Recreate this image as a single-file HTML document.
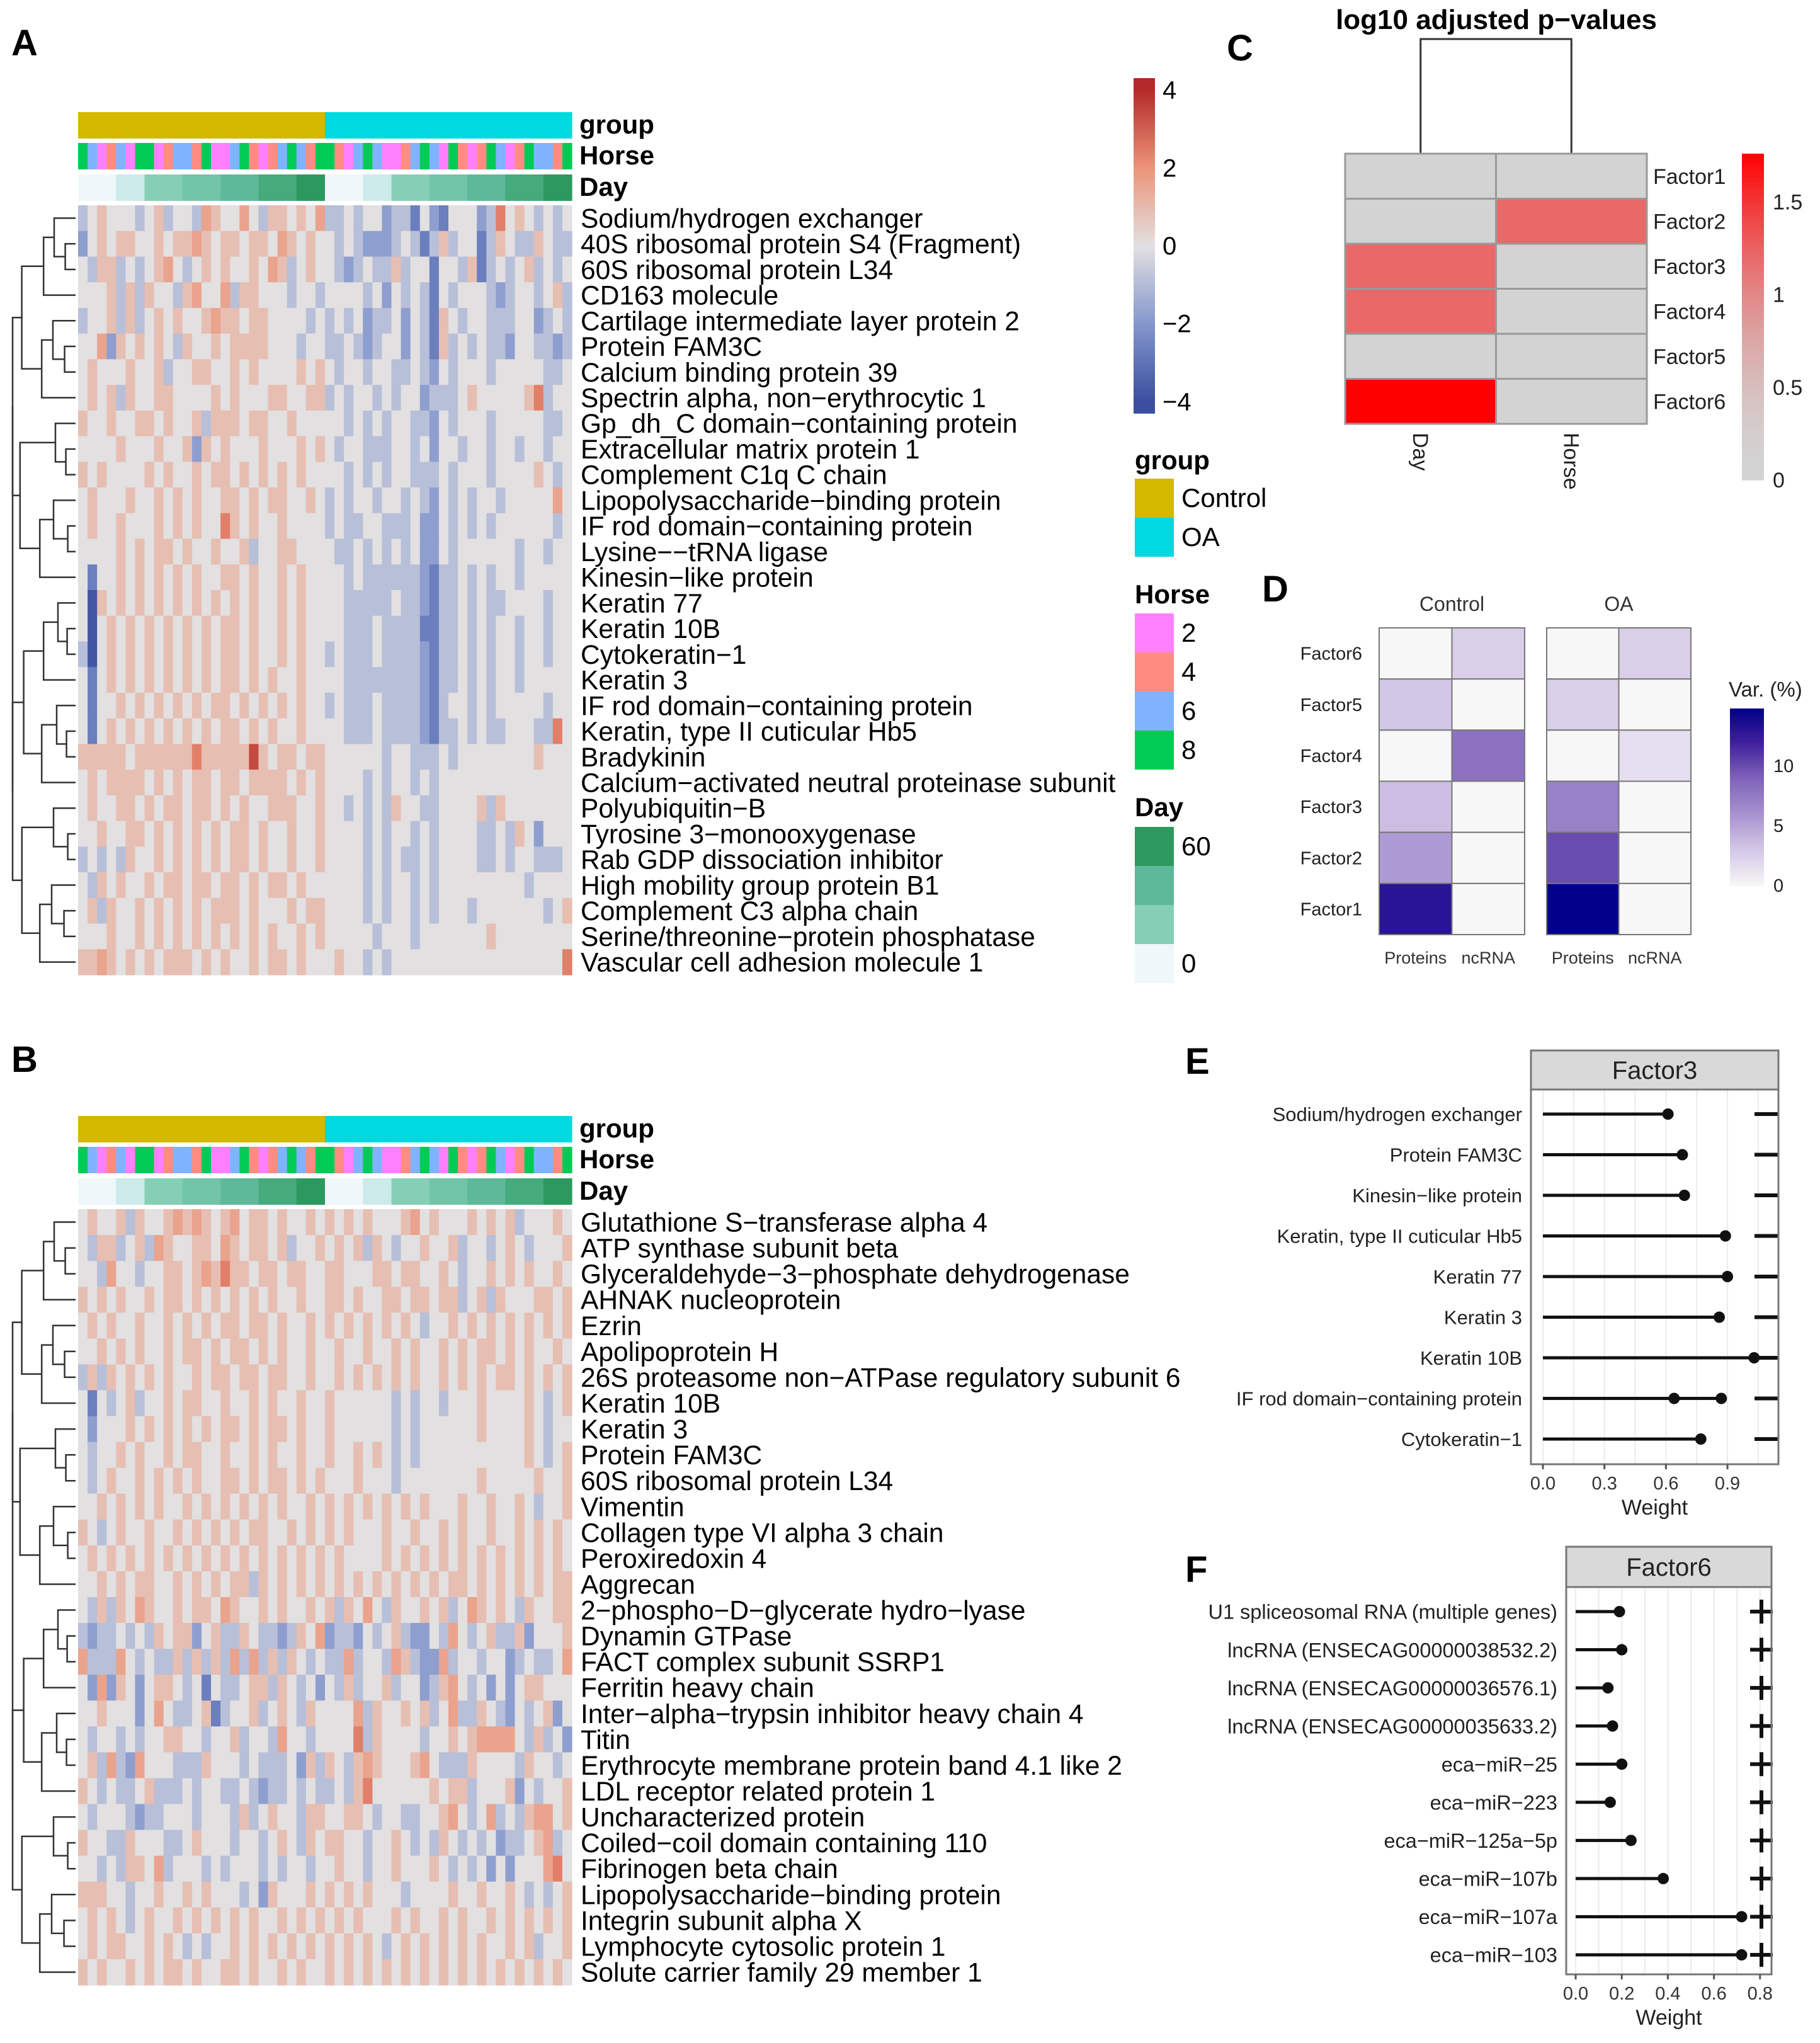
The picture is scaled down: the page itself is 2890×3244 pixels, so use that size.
<!DOCTYPE html>
<html><head><meta charset="utf-8"><style>
html,body{margin:0;padding:0;background:#fff;}
svg{display:block;font-family:"Liberation Sans",Arial,sans-serif;}
</style></head><body>
<svg id="fig" xmlns="http://www.w3.org/2000/svg" width="2890" height="3244" viewBox="0 0 2890 3244">
<rect width="2890" height="3244" fill="#fff"/>
<g id="gA"></g>
<g id="gB"></g>
<g id="gLeg"></g>
<g id="gC"></g>
<g id="gD"></g>
<g id="gE"></g>
<g id="gF"></g>
</svg>
<script>
// ===== DATA =====
const rowsA = ["Sodium/hydrogen exchanger","40S ribosomal protein S4 (Fragment)","60S ribosomal protein L34","CD163 molecule","Cartilage intermediate layer protein 2","Protein FAM3C","Calcium binding protein 39","Spectrin alpha, non\u2212erythrocytic 1","Gp_dh_C domain\u2212containing protein","Extracellular matrix protein 1","Complement C1q C chain","Lipopolysaccharide\u2212binding protein","IF rod domain\u2212containing protein","Lysine\u2212\u2212tRNA ligase","Kinesin\u2212like protein","Keratin 77","Keratin 10B","Cytokeratin\u22121","Keratin 3","IF rod domain\u2212containing protein","Keratin, type II cuticular Hb5","Bradykinin","Calcium\u2212activated neutral proteinase subunit","Polyubiquitin\u2212B","Tyrosine 3\u2212monooxygenase","Rab GDP dissociation inhibitor","High mobility group protein B1","Complement C3 alpha chain","Serine/threonine\u2212protein phosphatase","Vascular cell adhesion molecule 1"];
const rowsB = ["Glutathione S\u2212transferase alpha 4","ATP synthase subunit beta","Glyceraldehyde\u22123\u2212phosphate dehydrogenase","AHNAK nucleoprotein","Ezrin","Apolipoprotein H","26S proteasome non\u2212ATPase regulatory subunit 6","Keratin 10B","Keratin 3","Protein FAM3C","60S ribosomal protein L34","Vimentin","Collagen type VI alpha 3 chain","Peroxiredoxin 4","Aggrecan","2\u2212phospho\u2212D\u2212glycerate hydro\u2212lyase","Dynamin GTPase","FACT complex subunit SSRP1","Ferritin heavy chain","Inter\u2212alpha\u2212trypsin inhibitor heavy chain 4","Titin","Erythrocyte membrane protein band 4.1 like 2","LDL receptor related protein 1","Uncharacterized protein","Coiled\u2212coil domain containing 110","Fibrinogen beta chain","Lipopolysaccharide\u2212binding protein","Integrin subunit alpha X","Lymphocyte cytosolic protein 1","Solute carrier family 29 member 1"];
// heatmap levels: 0..8 -> z-scores
const levelValues = [-3.8,-2.7,-1.8,-0.9,0,0.9,1.6,2.4,3.4];
const heatA = [
"3454443453443654464355454633434423314214442374543434",
"2454554454556545545546545443432223431353441354335433",
"4355343456434545445465345443234335344144351343453434",
"4445353544356446355444344344443424343143444323443453",
"3445353454544565545544443434342334243154344333442343",
"4462545454354454555544434433432344243153434332443323",
"4544454453445544545444454543443443343243444344444334",
"4545354455444454544455445534344343442333454444457344",
"5445445545445355545544544444343434433243444344444334",
"4444544454452545444544454543443334434244344344344344",
"5454444545445455454545454444343434433343444344445434",
"4544454454545445545455445434344344343243434434444464",
"4544544454545447545445444434334433342243434344444434",
"4444545455454454453445544443343434342243444444344344",
"4144545454545445545445454444343333332133434344344444",
"4054545454545454545445454444333334332133434334444344",
"4045454545454545545445454444333433331133434344344344",
"3045454545454545545445454434333433332133434344344344",
"4145454545454545545454454444333333332133434344344444",
"4144545454545455454545454434333433332134434344444344",
"4145454545454545545454454444333433332133434334443374",
"5555545555557555558545545544444434433343444444445444",
"4545555454545545545555454544443434434344444444444444",
"4544554545545545454455544544343435443344445354444444",
"4454455454545454554544544544443434434344443343542444",
"3434354454545454554544544544443434334344443343443334",
"4354544545545545545455454444443434434344444444434444",
"4535445454545455545444545544443434434344434444444345",
"4445445454545454545454454544444344434444444544444444",
"5565454545554545445455454445443434444444444444444447"];
const heatB = [
"4544535445656545645545445454545444564544454545344454",
"4355345365445546545545344545453543445445344345434445",
"4436443445545657554554554455444554554454344545454454",
"5454544545545454545454454455454455455455345354445545",
"4545445445454545545545445454545454543445454545454545",
"4454545445455454554545445445445445454454545545454454",
"3535454545445455455455445445454545454454545455454545",
"4143453445455445445454454454444443434434445444454345",
"4244454545454545545455454454444443434444445444454344",
"4344545445455445445454454454454543434444444444454345",
"4345445454545445545455454544454443444444445444445445",
"4454545454454545454545445454545454545444544544543445",
"5434544544545454545544545454544454454454544544545454",
"4545454545454545454545454545444454545454545454545454",
"4454545544545454553545454545454545454545545454545455",
"4353546544545546544545445453546435445453465454354455",
"3233434354552453354332354623324345322436434533524445",
"6333643433535353636353543433634436532263443442343346",
"4262542455434143345535434243534453442356434242455444",
"4454442464334513445345435444463544545346335432434524",
"4344343445544344534436443444473544443445456666435342",
"4536326444333544434333425354356544456433354444354434",
"5434334533343443343233434334357444444545534445243445",
"4344432334443444353454435544554344334456434634356645",
"5443354443345444344345435455443445434354343423345634",
"4434355463444343444343443445443445444543434242444674",
"5554434454454544434254445454545444344445445445434345",
"4545434544545454545445454545454445454454544545454545",
"4545544545434344545454545454545434545454545445453445",
"5454454545545445545445454454545454545454545454545454"];
const horseSeq = "GBPSBPGGPSBBSGPPBGSPSBGBSGGSPBGBPPSBGBPGSPSGBPSGBBSG";
const dayHalf = [0,0,0,0,10,10,10,20,20,20,20,30,30,30,30,40,40,40,40,50,50,50,50,60,60,60];
const cFactors = ["Factor1","Factor2","Factor3","Factor4","Factor5","Factor6"];
const cCovariates = ["Day","Horse"];
const cDay = [0,0,1.2,1.2,0,1.76];
const cHorse = [0,1.2,0,0,0,0];
const cTicks = [0,0.5,1,1.5];
const dFactors = ["Factor6","Factor5","Factor4","Factor3","Factor2","Factor1"];
const dViews = ["Proteins","ncRNA"];
const dControlProteins = [0,3,0,3.5,5.5,13];
const dControlNcrna = [2.5,0,8,0,0,0];
const dOAProteins = [0,2.5,0,7,10,14.7];
const dOANcrna = [2.5,0,1.5,0,0,0];
const dTicks = [0,5,10];
const eFeatures = ["Sodium/hydrogen exchanger","Protein FAM3C","Kinesin\u2212like protein","Keratin, type II cuticular Hb5","Keratin 77","Keratin 3","Keratin 10B","IF rod domain\u2212containing protein","Cytokeratin\u22121"];
const eWeights = [0.61,0.68,0.69,0.89,0.90,0.86,1.03,0.87,0.77];
const eWeights2 = [null,null,null,null,null,null,null,0.64,null];
const eTicks = ["0.0","0.3","0.6","0.9"];
const fFeatures = ["U1 spliceosomal RNA (multiple genes)","lncRNA (ENSECAG00000038532.2)","lncRNA (ENSECAG00000036576.1)","lncRNA (ENSECAG00000035633.2)","eca\u2212miR\u221225","eca\u2212miR\u2212223","eca\u2212miR\u2212125a\u22125p","eca\u2212miR\u2212107b","eca\u2212miR\u2212107a","eca\u2212miR\u2212103"];
const fWeights = [0.19,0.20,0.14,0.16,0.20,0.15,0.24,0.38,0.72,0.72];
const fTicks = ["0.0","0.2","0.4","0.6","0.8"];

// ===== HELPERS =====
const NS="http://www.w3.org/2000/svg";
function mk(parent,tag,attrs,text){const e=document.createElementNS(NS,tag);for(const k in attrs)e.setAttribute(k,attrs[k]);if(text!==undefined)e.textContent=text;parent.appendChild(e);return e;}
function hex(c){return [parseInt(c.slice(1,3),16),parseInt(c.slice(3,5),16),parseInt(c.slice(5,7),16)];}
function lerpC(a,b,t){const A=hex(a),B=hex(b);return "rgb("+A.map((v,i)=>Math.round(v+(B[i]-v)*t)).join(",")+")";}
function scaleStops(stops,v){for(let i=0;i<stops.length-1;i++){if(v<=stops[i+1][0]){const t=(v-stops[i][0])/(stops[i+1][0]-stops[i][0]);return lerpC(stops[i][1],stops[i+1][1],Math.max(0,Math.min(1,t)));}}return stops[stops.length-1][1];}
const divStops=[[-4,"#3a4f9f"],[-2,"#8597cd"],[0,"#e2e0e1"],[2,"#ec9478"],[4,"#b42a2a"]];
const dayStops=[[0,"#eef7f9"],[10,"#cdeaea"],[20,"#86cfb7"],[40,"#5db99a"],[60,"#2c9a5e"]];
const horseCol={P:"#ff80ff",S:"#ff8c80",B:"#80b3ff",G:"#00cc55"};

function heatPanel(g,rows,data,top,bodyTop,bodyBot,label,labelY){
  const x0=124,x1=908,nC=52,cw=(x1-x0)/nC,nR=rows.length,rh=(bodyBot-bodyTop)/nR;
  const xs=c=>x0+c*cw, ys=r=>bodyTop+r*rh;
  const lt=mk(g,"text",{x:18,y:labelY,"font-size":58,"font-weight":"bold"},label);
  
  
  const ab=[top,top+49,top+99];const ah=42;
  for(let c=0;c<nC;c++){
    const gr=mk(g,"rect",{x:xs(c),y:ab[0],width:cw+0.6,height:ah,fill:c<26?"#d4b800":"#00d9e0"});
    
    
    const hr=mk(g,"rect",{x:xs(c),y:ab[1],width:cw+0.6,height:ah,fill:horseCol[horseSeq[c]]});
    
    
    const dr=mk(g,"rect",{x:xs(c),y:ab[2],width:cw+0.6,height:ah,fill:scaleStops(dayStops,dayHalf[c%26])});
    
    
  }
  [["group",0],["Horse",1],["Day",2]].forEach(([t,i])=>{
    const e=mk(g,"text",{x:x1+12,y:ab[i]+34,"font-size":42,"font-weight":"bold"},t);
    
    
  });
  for(let r=0;r<nR;r++){
    const s=(data[r]+"4".repeat(52)).slice(0,52);
    for(let c=0;c<nC;c++){
      const v=levelValues[+s[c]];
      const cell=mk(g,"rect",{x:xs(c),y:ys(r),width:cw+0.6,height:rh+0.6,fill:scaleStops(divStops,v)});
      
      
    }
    const t=mk(g,"text",{x:x1+14,y:ys(r)+rh/2+15,"font-size":42.5},rows[r]);
    
    
  }
  const dg=mk(g,"g",{stroke:"#333","stroke-width":2.5,fill:"none"});
  
  
  const xl=20,xr=x0-4;
  function tree(a,b,depth){
    if(b-a===1)return {y:ys(a)+rh/2,x:xr};
    const m=Math.floor((a+b)/2)+((depth%2)&&(b-a>3)?1:0);
    const L=tree(a,m,depth+1),R=tree(m,b,depth+1);
    const h=Math.max(xl,Math.min(L.x,R.x)-(8+ (b-a)*2.2 + ((a*7+depth*3)%9)));
    mk(dg,"path",{d:`M${L.x},${L.y}H${h}V${R.y}H${R.x}`});
    return {y:(L.y+R.y)/2,x:h};
  }
  tree(0,nR,0);
}
heatPanel(document.getElementById("gA"),rowsA,heatA,178,326,1548,"A",88);
heatPanel(document.getElementById("gB"),rowsB,heatB,1772,1920,3152,"B",1702);

// ===== Legends for A =====
(function(){
  const g=document.getElementById("gLeg");
  const bx=1800,bw=34,byTop=124,byBot=656;
  const vTop=4.3,vBot=-4.3;
  const yv=v=>byTop+(vTop-v)/(vTop-vBot)*(byBot-byTop);
  for(let i=0;i<100;i++){
    const v=vTop-(i+0.5)*(vTop-vBot)/100;
    const r=mk(g,"rect",{x:bx,y:byTop+i*(byBot-byTop)/100,width:bw,height:(byBot-byTop)/100+0.8,fill:scaleStops(divStops,v)});
    
    
  }
  [4,2,0,-2,-4].forEach(v=>{
    const t=mk(g,"text",{x:1846,y:yv(v)+14,"font-size":40},v<0?"\u2212"+(-v):String(v));
    
    
  });
  function title(t,y){const e=mk(g,"text",{x:1802,y:y,"font-size":42,"font-weight":"bold"},t);
    
    }
  function entry(col,lab,y){
    const r=mk(g,"rect",{x:1802,y:y,width:62,height:62,fill:col});
    
    
    if(lab!==null){const t=mk(g,"text",{x:1876,y:y+45,"font-size":42},lab);
      
      }
  }
  title("group",745);
  entry("#d4b800","Control",760);entry("#00d9e0","OA",822);
  title("Horse",958);
  entry("#ff80ff","2",974);entry("#ff8c80","4",1036);entry("#80b3ff","6",1098);entry("#00cc55","8",1160);
  title("Day",1296);
  [[60,"60"],[40,null],[20,null],[0,"0"]].forEach(([v,l],i)=>entry(scaleStops(dayStops,v),l,1313+i*62));
})();

// ===== Panel C =====
(function(){
  const g=document.getElementById("gC");
  const x0=2136,x1=2615,y0=244,y1=673,vmax=1.76;
  const cw=(x1-x0)/2,rh=(y1-y0)/6;
  const col=v=>lerpC("#d3d3d3","#ff0000",Math.pow(v/vmax,1.8));
  const lab=mk(g,"text",{x:1948,y:96,"font-size":58,"font-weight":"bold"},"C");
  
  
  const tt=mk(g,"text",{x:2376,y:46,"font-size":44,"font-weight":"bold","text-anchor":"middle"},"log10 adjusted p\u2212values");
  
  
  const dd=mk(g,"path",{d:`M${x0+cw/2},${y0}V62H${x0+cw*1.5}V${y0}`,stroke:"#333","stroke-width":3,fill:"none"});
  
  
  const vals=[cDay,cHorse];
  for(let r=0;r<6;r++){
    for(let c=0;c<2;c++){
      const e=mk(g,"rect",{x:x0+c*cw,y:y0+r*rh,width:cw,height:rh,fill:col(vals[c][r]),stroke:"#999","stroke-width":3});
      
      
    }
    const t=mk(g,"text",{x:x1+10,y:y0+r*rh+rh/2+12,"font-size":34,fill:"#222"},cFactors[r]);
    
    
  }
  cCovariates.forEach((n,c)=>{
    const cx=x0+c*cw+cw/2;
    const t=mk(g,"text",{x:cx-12,y:y1+14,"font-size":34,fill:"#222",transform:`rotate(90 ${cx-12} ${y1+14})`},n);
    
    
  });
  const bx=2766,bw=35,bt=244,bb=762;
  const yv=v=>bb-v/vmax*(bb-bt);
  for(let i=0;i<80;i++){
    const v=vmax-(i+0.5)*vmax/80;
    const e=mk(g,"rect",{x:bx,y:bt+i*(bb-bt)/80,width:bw,height:(bb-bt)/80+0.8,fill:col(v)});
    
    
  }
  cTicks.forEach(v=>{
    const t=mk(g,"text",{x:2815,y:yv(v)+12,"font-size":34,fill:"#222"},String(v));
    
    
  });
})();

// ===== Panel D =====
(function(){
  const g=document.getElementById("gD");
  const y0=997,y1=1484,rh=(y1-y0)/6,vmax=14.8;
  const stops=[[0,"#f7f7f7"],[3,"#d3c7e6"],[6,"#a791cf"],[9,"#7e62ba"],[12,"#3f1f9a"],[14.8,"#00008b"]];
  const lab=mk(g,"text",{x:2004,y:955,"font-size":58,"font-weight":"bold"},"D");
  
  
  const panels=[["Control",2190,2421,dControlProteins,dControlNcrna],["OA",2456,2685,dOAProteins,dOANcrna]];
  panels.forEach(([name,xa,xb,p,n])=>{
    const cw=(xb-xa)/2;
    const t=mk(g,"text",{x:(xa+xb)/2,y:970,"font-size":32,"text-anchor":"middle",fill:"#333"},name);
    
    
    for(let r=0;r<6;r++){
      [p,n].forEach((arr,c)=>{
        const e=mk(g,"rect",{x:xa+c*cw,y:y0+r*rh,width:cw,height:rh,fill:scaleStops(stops,arr[r]),stroke:"#777","stroke-width":2});
        
        
      });
    }
    dViews.forEach((v,c)=>{
      const e=mk(g,"text",{x:xa+c*cw+cw/2,y:1530,"font-size":27,"text-anchor":"middle",fill:"#333"},v);
      
      
    });
  });
  dFactors.forEach((f,r)=>{
    const e=mk(g,"text",{x:2163,y:y0+r*rh+rh/2+10,"font-size":29,"text-anchor":"end",fill:"#222"},f);
    
    
  });
  const vt=mk(g,"text",{x:2745,y:1106,"font-size":33,fill:"#222"},"Var. (%)");
  
  
  const bx=2747,bw=54,bt=1125,bb=1406;
  const yv=v=>bb-v/vmax*(bb-bt);
  for(let i=0;i<80;i++){
    const v=vmax-(i+0.5)*vmax/80;
    const e=mk(g,"rect",{x:bx,y:bt+i*(bb-bt)/80,width:bw,height:(bb-bt)/80+0.8,fill:scaleStops(stops,v)});
    
    
  }
  dTicks.forEach(v=>{
    const t=mk(g,"text",{x:2816,y:yv(v)+10,"font-size":29,fill:"#222"},String(v));
    
    
  });
})();

// ===== Lollipop panels =====
function lollipop(g,cfg){
  const {label,lx,ly,px0,px1,sy0,sy1,py1,x0v,pxPerUnit,features,w,w2,ticks,title,rowTop,rowBot,fs,marker}=cfg;
  const xs=v=>x0v+v*pxPerUnit;
  const lab=mk(g,"text",{x:lx,y:ly,"font-size":58,"font-weight":"bold"},label);
  
  
  const strip=mk(g,"rect",{x:px0,y:sy0,width:px1-px0,height:sy1-sy0,fill:"#d9d9d9",stroke:"#777","stroke-width":3});
  
  
  const st=mk(g,"text",{x:(px0+px1)/2,y:(sy0+sy1)/2+14,"font-size":40,"text-anchor":"middle",fill:"#222"},title);
  
  
  const step=cfg.grid;
  for(let v=0;xs(v)<px1;v+=step){
    const l=mk(g,"line",{x1:xs(v),x2:xs(v),y1:sy1,y2:py1,stroke:"#ebebeb","stroke-width":2});
    
    
  }
  const n=features.length,sp=(rowBot-rowTop)/(n-1);
  features.forEach((f,i)=>{
    const y=rowTop+i*sp;
    const t=mk(g,"text",{x:px0-14,y:y+fs*0.36,"font-size":fs,"text-anchor":"end",fill:"#222"},f);
    
    
    const st=mk(g,"line",{x1:xs(0),x2:xs(w[i]),y1:y,y2:y,stroke:"#111","stroke-width":5});
    
    
    const d=mk(g,"circle",{cx:xs(w[i]),cy:y,r:9,fill:"#111"});
    
    
    if(w2[i]!=null){
      const d2=mk(g,"circle",{cx:xs(w2[i]),cy:y,r:9,fill:"#111"});
      
      
    }
    if(marker==="dash"){
      const m=mk(g,"line",{x1:px1-38,x2:px1,y1:y,y2:y,stroke:"#111","stroke-width":6});
      
      
    }else{
      const mx=cfg.plusX;
      const m=mk(g,"path",{d:`M${mx-18},${y}H${mx+18}M${mx},${y-19}V${y+19}`,stroke:"#111","stroke-width":6});
      
      
    }
  });
  const box=mk(g,"rect",{x:px0,y:sy1,width:px1-px0,height:py1-sy1,fill:"none",stroke:"#777","stroke-width":3});
  
  
  ticks.forEach(tk=>{
    const x=xs(parseFloat(tk));
    const tl=mk(g,"line",{x1:x,x2:x,y1:py1,y2:py1+8,stroke:"#555","stroke-width":3});
    
    
    const tt=mk(g,"text",{x:x,y:py1+40,"font-size":29,"text-anchor":"middle",fill:"#333"},tk);
    
    
  });
  const xt=mk(g,"text",{x:(px0+px1)/2,y:py1+80,"font-size":34,"text-anchor":"middle",fill:"#222"},"Weight");
  
  
}
lollipop(document.getElementById("gE"),{label:"E",lx:1882,ly:1705,px0:2431,px1:2824,sy0:1668,sy1:1730,py1:2325,x0v:2450,pxPerUnit:325.6,features:eFeatures,w:eWeights,w2:eWeights2,ticks:eTicks,title:"Factor3",rowTop:1769,rowBot:2285,fs:31,marker:"dash",grid:0.15});
lollipop(document.getElementById("gF"),{label:"F",lx:1882,ly:2512,px0:2487,px1:2813,sy0:2456,sy1:2520,py1:3135,x0v:2502,pxPerUnit:366,features:fFeatures,w:fWeights,w2:fWeights.map(()=>null),ticks:fTicks,title:"Factor6",rowTop:2559,rowBot:3104,fs:32.5,marker:"plus",plusX:2797,grid:0.1});
</script>
</body></html>
